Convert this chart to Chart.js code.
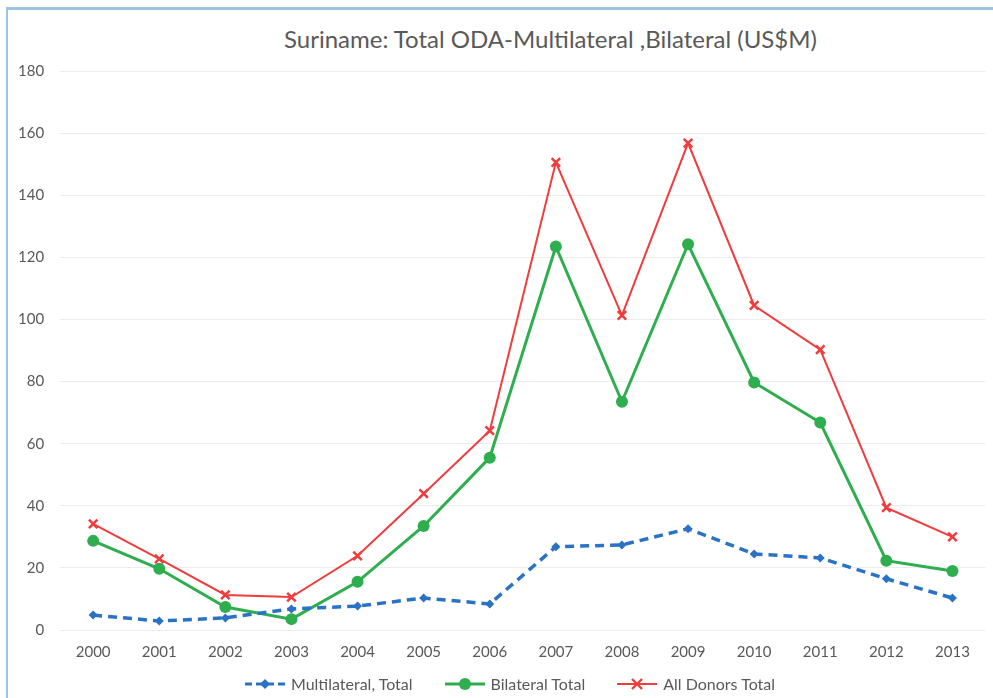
<!DOCTYPE html>
<html>
<head>
<meta charset="utf-8">
<script src="https://cdn.jsdelivr.net/npm/chart.js@4.4.1/dist/chart.umd.min.js"></script>
<style>
  html, body { margin: 0; padding: 0; background: #fff; overflow: hidden; }
  #frame {
    position: absolute; left: 6px; top: 7px; width: 987px; height: 691px;
    border-left: 2px solid #9dc3e6; border-top: 3px solid #9dc3e6;
    box-sizing: border-box;
  }
  #title {
    position: absolute; left: 0; width: 993px; top: 24px; text-align: center;
    font-family: Lato, "Open Sans", sans-serif; font-size: 24px; color: #595959;
    padding-left: 108px; box-sizing: border-box;
  }
  #wrap { position: absolute; left: 0; top: 11px; width: 994px; height: 687px; }
  #legend {
    position: absolute; left: 0; width: 993px; top: 674px; box-sizing: border-box;
    padding-left: 26px; display: flex; justify-content: center; gap: 31px;
    font-family: Lato, sans-serif; font-size: 16px; color: #595959;
  }
  #legend .item { display: flex; align-items: center; gap: 5px; }
</style>
</head>
<body>
<div id="frame"></div>
<div id="title">Suriname: Total ODA-Multilateral ,Bilateral (US$M)</div>
<div id="wrap"><canvas id="lineChart"></canvas></div>
<div id="legend"></div>
<script>
// données
const years = ['2000', '2001', '2002', '2003', '2004', '2005', '2006', '2007', '2008', '2009', '2010', '2011', '2012', '2013'];
const seriesNames = ['Multilateral, Total', 'Bilateral Total', 'All Donors Total'];
const multilateral = [4.8, 2.9, 3.9, 6.8, 7.7, 10.3, 8.4, 26.8, 27.4, 32.6, 24.5, 23.2, 16.5, 10.3];
const bilateral = [28.7, 19.7, 7.4, 3.5, 15.5, 33.5, 55.5, 123.5, 73.5, 124.2, 79.7, 66.8, 22.3, 19.0];
const allDonors = [34.2, 22.9, 11.3, 10.6, 23.9, 43.9, 64.2, 150.6, 101.3, 156.8, 104.5, 90.3, 39.4, 30.0];
const yTicks = [0, 20, 40, 60, 80, 100, 120, 140, 160, 180];

const blue = '#2a72c6';
const green = '#2eae4e';
const red = '#f03c3c';

// petite icone ligne + marqueur pour la légende
function legendIcon(color, marker, dashed, lw) {
  const c = document.createElement('canvas');
  c.width = 42; c.height = 14;
  const ctx = c.getContext('2d');
  ctx.strokeStyle = color; ctx.fillStyle = color; ctx.lineWidth = lw;
  if (dashed) ctx.setLineDash([7, 4]);
  ctx.beginPath(); ctx.moveTo(1, 7); ctx.lineTo(41, 7); ctx.stroke();
  ctx.setLineDash([]);
  if (marker === 'diamond') {
    ctx.beginPath(); ctx.moveTo(21, 2); ctx.lineTo(26, 7); ctx.lineTo(21, 12); ctx.lineTo(16, 7); ctx.closePath(); ctx.fill();
  } else if (marker === 'circle') {
    ctx.beginPath(); ctx.arc(21, 7, 6, 0, Math.PI * 2); ctx.fill();
  } else {
    ctx.lineWidth = 2.4;
    ctx.beginPath(); ctx.moveTo(16, 2); ctx.lineTo(26, 12); ctx.moveTo(26, 2); ctx.lineTo(16, 12); ctx.stroke();
  }
  return c;
}
const icons = [legendIcon(blue, 'diamond', true, 3), legendIcon(green, 'circle', false, 3), legendIcon(red, 'cross', false, 2)];

// légende en HTML
const legendDiv = document.getElementById('legend');
seriesNames.forEach((name, i) => {
  const item = document.createElement('div');
  item.className = 'item';
  item.appendChild(icons[i]);
  const span = document.createElement('span');
  span.textContent = name;
  item.appendChild(span);
  legendDiv.appendChild(item);
});

new Chart(document.querySelector('#lineChart'), {
  type: 'line',
  data: {
    labels: years,
    datasets: [{
      label: seriesNames[0],
      data: multilateral,
      borderColor: blue,
      backgroundColor: blue,
      borderWidth: 3.5,
      borderDash: [9, 6],
      pointStyle: 'rectRot',
      pointRadius: 4.5,
      pointBorderWidth: 0
    }, {
      label: seriesNames[1],
      data: bilateral,
      borderColor: green,
      backgroundColor: green,
      borderWidth: 3,
      pointStyle: 'circle',
      pointRadius: 6,
      pointBorderWidth: 0
    }, {
      label: seriesNames[2],
      data: allDonors,
      borderColor: red,
      backgroundColor: red,
      borderWidth: 2,
      pointStyle: 'crossRot',
      pointRadius: 6,
      pointBorderWidth: 2.5
    }]
  },
  options: {
    responsive: true,
    maintainAspectRatio: false,
    animation: false,
    layout: { padding: { top: 60, left: 2, right: 0, bottom: 24 } },
    plugins: {
      tooltip: { enabled: false },
      legend: { display: false }
    },
    scales: {
      x: {
        offset: true,
        grid: { display: false, drawTicks: false },
        border: { display: false },
        ticks: { color: '#595959', font: { family: 'Lato', size: 15 }, padding: 13 }
      },
      y: {
        min: 0,
        max: 180,
        afterBuildTicks: axis => { axis.ticks = yTicks.map(v => ({ value: v })); },
        grid: { color: '#ececec', drawTicks: false },
        border: { display: false },
        ticks: { color: '#595959', font: { family: 'Lato', size: 15 }, padding: 16 }
      }
    }
  }
});
</script>
</body>
</html>
